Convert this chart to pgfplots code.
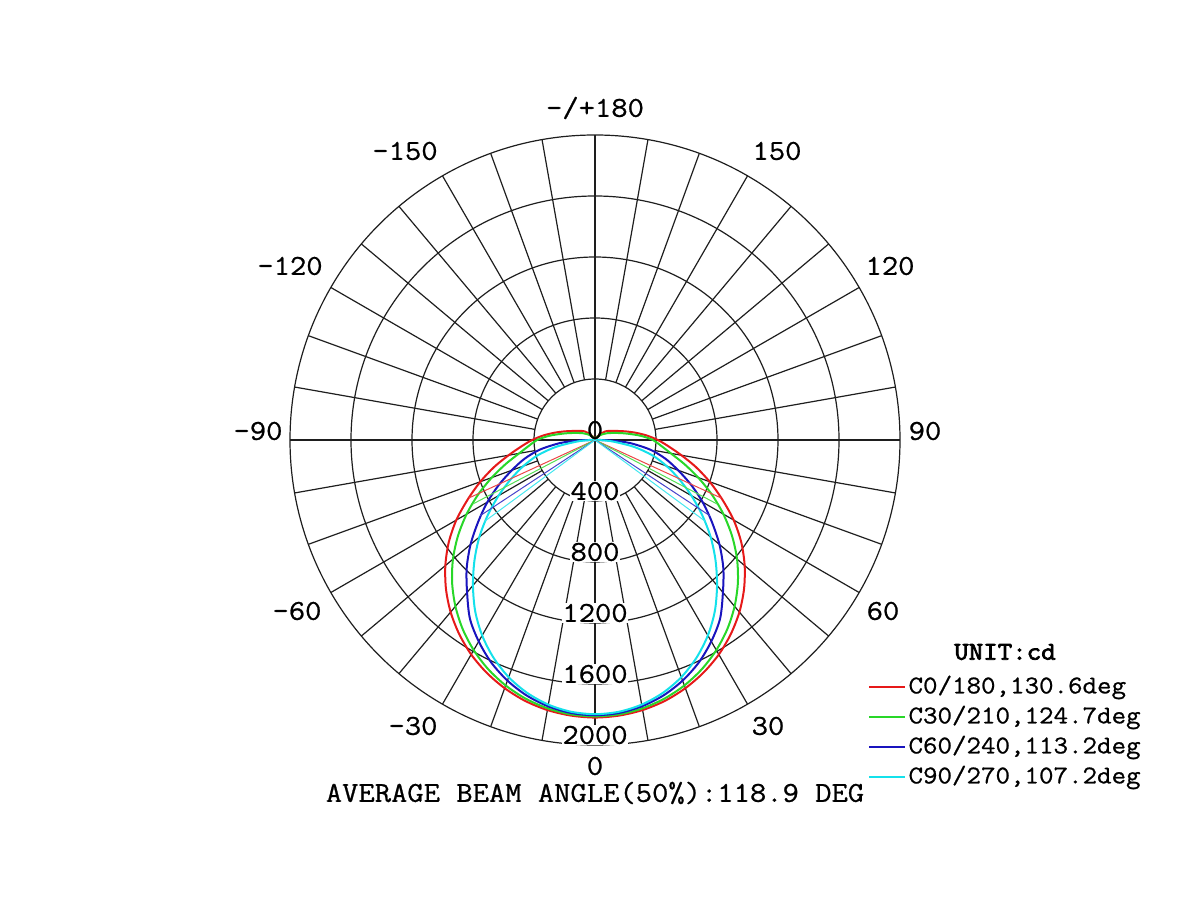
\documentclass[border=0pt]{standalone}
\usepackage{pgfplots}
\pgfplotsset{compat=1.18}
\usepackage{pgfplotstable}
\usepackage{fontspec}
\setmainfont{Latin Modern Mono}[FakeBold=0.8, FakeStretch=1.1]
\newfontfamily\courbold{Latin Modern Mono}[FakeBold=3, FakeStretch=1.1]
\definecolor{cRed}{RGB}{230,25,25}
\definecolor{cGreen}{RGB}{40,215,40}
\definecolor{cBlue}{RGB}{25,20,190}
\definecolor{cCyan}{RGB}{20,225,235}
\definecolor{gridc}{RGB}{30,30,30}

% columns: t = photometric angle (0 = down, +90 = right), r = intensity in cd
\pgfplotstableread{
t r
-180 0
-170 4
-160 10
-150 22
-140 45
-135 65
-130 88
-125 103
-120 118
-115 140
-110 172
-105 215
-100 272
-95 340
-90 412
-85 485
-80 575
-75 685
-70 800
-65 920
-60 1050
-55 1171
-50 1281
-45 1382
-40 1473
-35 1553
-30 1624
-25 1683
-20 1732
-15 1771
-10 1798
-5 1814
0 1820
5 1814
10 1798
15 1771
20 1732
25 1683
30 1624
35 1553
40 1473
45 1382
50 1281
55 1171
60 1050
65 920
70 800
75 685
80 575
85 485
90 412
95 340
100 272
105 215
110 172
115 140
120 118
125 103
130 88
135 65
140 45
150 22
160 10
170 4
180 0
}\redtab

\pgfplotstableread{
t r
-180 0
-170 3
-160 8
-150 16
-140 32
-130 55
-120 88
-115 108
-110 135
-105 175
-100 230
-95 305
-90 380
-85 435
-80 505
-75 605
-70 720
-65 845
-60 972
-55 1097
-50 1216
-45 1325
-40 1424
-35 1513
-30 1591
-25 1658
-20 1713
-15 1756
-10 1787
-5 1806
0 1812
5 1806
10 1787
15 1756
20 1713
25 1658
30 1591
35 1513
40 1424
45 1325
50 1216
55 1097
60 972
65 845
70 720
75 605
80 505
85 435
90 380
95 305
100 230
105 175
110 135
115 108
120 88
130 55
140 32
150 16
160 8
170 3
180 0
}\greentab

\pgfplotstableread{
t r
-100 0
-95 10
-90 40
-88 110
-85 230
-80 370
-75 480
-70 580
-65 695
-60 815
-55 935
-50 1065
-45 1190
-40 1305
-35 1430
-30 1525
-25 1610
-20 1679
-15 1734
-10 1773
-5 1797
0 1805
5 1797
10 1773
15 1734
20 1679
25 1610
30 1525
35 1430
40 1305
45 1190
50 1065
55 935
60 815
65 695
70 580
75 480
80 370
85 230
88 110
90 40
95 10
100 0
}\bluetab

\pgfplotstableread{
t r
-90 0
-88 45
-85 120
-80 260
-75 390
-70 500
-65 610
-60 730
-55 858
-50 990
-45 1118
-40 1245
-35 1370
-30 1480
-25 1575
-20 1655
-15 1717
-10 1762
-5 1789
0 1798
5 1789
10 1762
15 1717
20 1655
25 1575
30 1480
35 1370
40 1245
45 1118
50 990
55 858
60 730
65 610
70 500
75 390
80 260
85 120
88 45
90 0
}\cyantab

\begin{document}
\begin{tikzpicture}[x=1pt,y=1pt]
% polar grid (rings every 400 cd, spokes every 10 deg)
\begin{scope}[shift={(297.5pt,230pt)}, draw=gridc, line width=0.6pt]
  \foreach \r in {30.5,61,91.5,122,152.5} \draw (0,0) circle[radius=\r pt];
  \foreach \a in {0,10,...,350} \draw (\a:30.5pt) -- (\a:152.5pt);
  \draw (-152.5pt,0) -- (152.5pt,0);
  \draw (0,-152.5pt) -- (0,152.5pt);
\end{scope}
% radial value labels
\begin{scope}[font=\fontsize{14.4}{17}\selectfont]
  \node[fill=white, inner sep=0.3pt] at (297.5pt,204.5pt) {400};
  \node[fill=white, inner sep=0.3pt] at (297.5pt,174pt) {800};
  \node[fill=white, inner sep=0.3pt] at (297.5pt,143.5pt) {1200};
  \node[fill=white, inner sep=0.3pt] at (297.5pt,113pt) {1600};
  \node[fill=white, inner sep=0.3pt] at (297.5pt,82.5pt) {2000};
\end{scope}
\begin{axis}[
  at={(0,0)}, anchor=south west,
  x=0.07625pt, y=0.07625pt,
  xmin=-3901.64, xmax=3967.21, ymin=-3016.39, ymax=2885.25,
  enlargelimits=false, hide axis, clip=false,
  legend image code/.code={\draw[#1, line width=0.9pt] (0pt,0pt) -- (18pt,0pt);},
  legend style={at={(rel axis cs:0.7233,0.25)}, anchor=north west,
    draw=none, fill=none, inner sep=0pt, row sep=3.5pt,
    font=\fontsize{12.8}{15}\selectfont,
    cells={anchor=west},
    nodes={inner xsep=1.2pt, inner ysep=0pt, text height=9pt, text depth=2.5pt}},
]
\addplot[cRed, line width=1pt, data cs=polar, smooth, tension=0.5] table[x expr=\thisrow{t}-90, y=r] {\redtab};
\addlegendentry{C0/180,130.6deg}
\addplot[cGreen, line width=1pt, data cs=polar, smooth, tension=0.5] table[x expr=\thisrow{t}-90, y=r] {\greentab};
\addlegendentry{C30/210,124.7deg}
\addplot[cBlue, line width=1pt, data cs=polar, smooth, tension=0.5] table[x expr=\thisrow{t}-90, y=r] {\bluetab};
\addlegendentry{C60/240,113.2deg}
\addplot[cCyan, line width=1pt, data cs=polar, smooth, tension=0.5] table[x expr=\thisrow{t}-90, y=r] {\cyantab};
\addlegendentry{C90/270,107.2deg}
% half-beam-angle lines (50% intensity)
\addplot[cRed!80, line width=0.5pt, data cs=polar, forget plot] coordinates {(-155.3,910) (0,0) (-24.7,910)};
\addplot[cGreen!80, line width=0.5pt, data cs=polar, forget plot] coordinates {(-152.35,906) (0,0) (-27.65,906)};
\addplot[cBlue!80, line width=0.5pt, data cs=polar, forget plot] coordinates {(-146.6,902) (0,0) (-33.4,902)};
\addplot[cCyan!80, line width=0.5pt, data cs=polar, forget plot] coordinates {(-143.6,899) (0,0) (-36.4,899)};
\end{axis}
% angle labels
\begin{scope}[font=\fontsize{14.4}{17}\selectfont, every node/.style={inner sep=0pt}]
  \node at (297.5pt,235pt) {0};
  \node at (297.5pt,396pt) {-/+180};
  \node at (388.5pt,374.5pt) {150};
  \node at (202.5pt,374.5pt) {-150};
  \node at (445pt,317pt) {120};
  \node at (145pt,317pt) {-120};
  \node at (462.5pt,234.5pt) {90};
  \node at (129pt,234.5pt) {-90};
  \node at (441.5pt,144.5pt) {60};
  \node at (148.5pt,144.5pt) {-60};
  \node at (384pt,87pt) {30};
  \node at (206.5pt,87pt) {-30};
  \node at (297.5pt,67pt) {0};
  \node at (297.5pt,53.5pt) {AVERAGE BEAM ANGLE(50\%):118.9 DEG};
\end{scope}
\node[font=\courbold\fontsize{12.8}{15}\selectfont, inner sep=0pt] at (502.5pt,124pt) {UNIT:cd};
\pgfresetboundingbox
\path[use as bounding box] (0,0) rectangle (600pt,450pt);
\end{tikzpicture}
\end{document}
